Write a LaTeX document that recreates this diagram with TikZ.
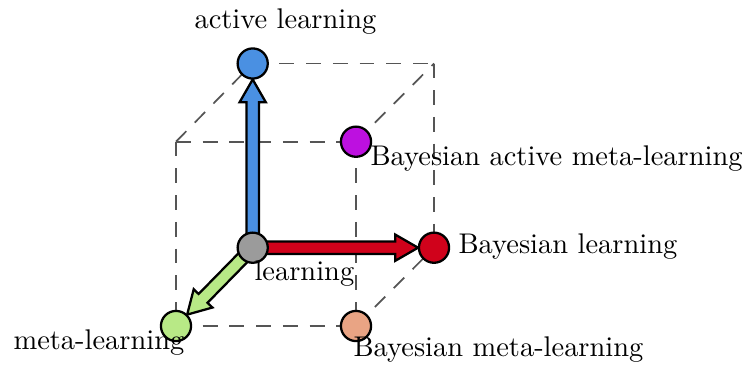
\documentclass[tikz,border=0pt]{standalone}
\usetikzlibrary{calc}
\definecolor{cblue}{HTML}{4A90E2}
\definecolor{cred}{HTML}{D0021B}
\definecolor{cgreen}{HTML}{B8E986}
\definecolor{cmag}{HTML}{BD10E0}
\definecolor{csalmon}{HTML}{E9A484}
\definecolor{cgray}{HTML}{9B9B9B}
\definecolor{cdash}{HTML}{555555}
\tikzset{
  dot/.style={circle, draw=black, thick, minimum size=10.6pt, inner sep=0pt},
  cubeedge/.style={draw=cdash, line width=0.6pt, dash pattern=on 5.2pt off 4.2pt},
  fatarr/.style={draw=black, thick, line join=miter},
  lbl/.style={inner sep=0pt, anchor=base west, font=\fontsize{10}{12}\selectfont}
}
\newcommand\fatarrow[3]{%
  \coordinate (#2-T) at ($(#2.center)!5.6pt!(#1.center)$);
  \coordinate (#2-H) at ($(#2-T)!8pt!(#1.center)$);
  \draw[fatarr, fill=#3]
    ($(#1.center)!2.2pt!90:(#2-T)$) --
    ($(#2-H)!2.2pt!90:(#2-T)$) --
    ($(#2-H)!4.6pt!90:(#2-T)$) --
    (#2-T) --
    ($(#2-H)!4.6pt!-90:(#2-T)$) --
    ($(#2-H)!2.2pt!-90:(#2-T)$) --
    ($(#1.center)!2.2pt!-90:(#2-T)$) -- cycle;}
\begin{document}
\begin{tikzpicture}[x=0.3515pt, y=-0.3515pt]
\useasboundingbox (0,0) rectangle (746,367);
% node positions
\coordinate (O) at (252.7,247.7);
\coordinate (A) at (252.7,63.5);
\coordinate (B) at (434,247.7);
\coordinate (M) at (176,326);
\coordinate (AM) at (356,141.7);
\coordinate (BM) at (356,326);
\coordinate (BA) at (434,63.5);
\coordinate (FA) at (176,141.7);
% cube edges
\draw[cubeedge] (FA) -- (AM);
\draw[cubeedge] (FA) -- (M);
\draw[cubeedge] (FA) -- (A);
\draw[cubeedge] (AM) -- (BM);
\draw[cubeedge] (M) -- (BM);
\draw[cubeedge] (AM) -- (BA);
\draw[cubeedge] (A) -- (BA);
\draw[cubeedge] (BA) -- (B);
\draw[cubeedge] (BM) -- (B);
% circles (placed first as nodes to name them, redrawn later)
\path (O) node[dot, draw=none] (o) {}
      (A) node[dot, draw=none] (a) {}
      (B) node[dot, draw=none] (b) {}
      (M) node[dot, draw=none] (m) {};
\fatarrow{o}{a}{cblue}
\fatarrow{o}{b}{cred}
\fatarrow{o}{m}{cgreen}
\node[dot, fill=cgray] (oc) at (O) {};
\node[dot, fill=cblue] (ac) at (A) {};
\node[dot, fill=cred] (bc) at (B) {};
\node[dot, fill=cgreen] (mc) at (M) {};
\node[dot, fill=cmag] (amc) at (AM) {};
\node[dot, fill=csalmon] (bmc) at (BM) {};
% labels
\node[lbl] (la) at (194,28.5) {active learning};
\node[lbl] (lam) at (370,165) {Bayesian active meta-learning};
\node[lbl] (lb) at (458,253.5) {Bayesian learning};
\node[lbl] (lo) at (254,280) {learning};
\node[lbl] (lm) at (13,349) {meta-learning};
\node[lbl] (lbm) at (353,356) {Bayesian meta-learning};
\end{tikzpicture}
\end{document}
